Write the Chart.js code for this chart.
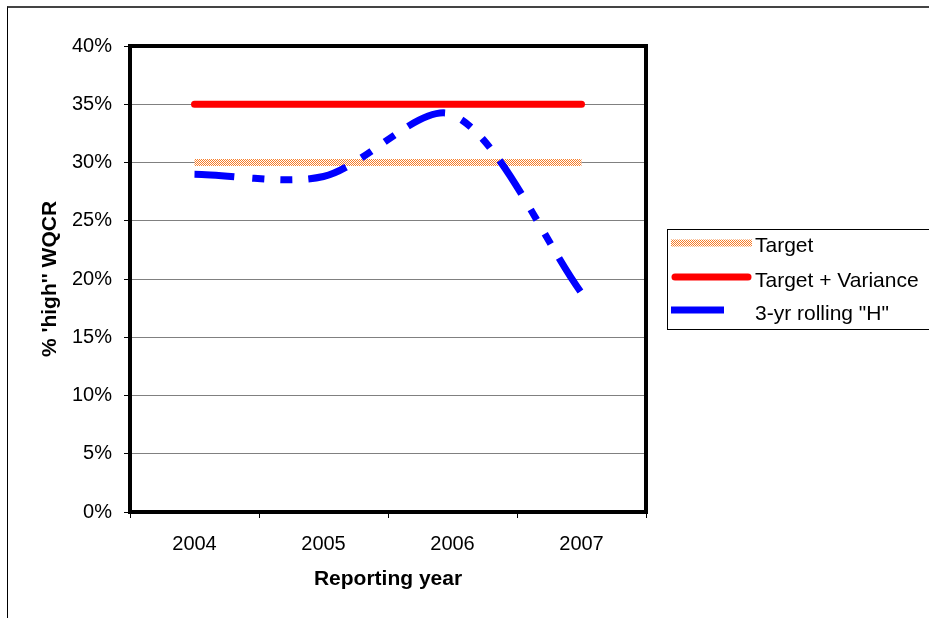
<!DOCTYPE html>
<html><head><meta charset="utf-8">
<script src="https://cdn.jsdelivr.net/npm/chart.js@4.4.0/dist/chart.umd.min.js"></script>
<style>
html,body{margin:0;padding:0;background:#fff;overflow:hidden;}
#wrap{position:relative;width:929px;height:618px;overflow:hidden;}
#frame{position:absolute;left:7px;top:6px;width:1000px;height:700px;border-top:2px solid #444;border-left:1px solid #000;}
canvas{position:absolute;left:0;top:0;}
</style></head>
<body><div id="wrap"><div id="frame"></div><canvas id="c" width="929" height="618"></canvas></div>
<script>
const categories = ['2004', '2005', '2006', '2007'];
const targetValues = [30, 30, 30, 30];
const targetVarianceValues = [35, 35, 35, 35];
const rollingHValues = [29.0, 28.8, 34.1, 18.8];
const yTickLabels = ['0%', '5%', '10%', '15%', '20%', '25%', '30%', '35%', '40%'];
const seriesLabels = ['Target', 'Target + Variance', '3-yr rolling "H"'];

const FONT = "'Liberation Sans', Arial, sans-serif";

function dotPattern() {
  const c = document.createElement('canvas');
  c.width = 2; c.height = 2;
  const g = c.getContext('2d');
  g.fillStyle = '#ffffff'; g.fillRect(0, 0, 2, 2);
  g.fillStyle = '#f77d2a'; g.fillRect(0, 0, 1, 1); g.fillRect(1, 1, 1, 1);
  return g.createPattern(c, 'repeat');
}
const targetPattern = dotPattern();

const plotBorder = {
  id: 'plotBorder',
  afterDatasetsDraw(chart) {
    const {ctx, chartArea: a} = chart;
    ctx.save();
    ctx.strokeStyle = '#000';
    ctx.lineWidth = 4;
    ctx.strokeRect(a.left, a.top, a.right - a.left, a.bottom - a.top);
    ctx.restore();
  }
};

const boxLegend = {
  id: 'boxLegend',
  afterDraw(chart) {
    const ctx = chart.ctx;
    ctx.save();
    ctx.strokeStyle = '#000';
    ctx.lineWidth = 1;
    ctx.strokeRect(667.5, 229.5, 300, 100);
    const lineY = [243, 277, 310];
    const textY = [246, 281, 314];
    const lineEnd = [752, 752, 724];
    chart.data.datasets.forEach((ds, i) => {
      ctx.beginPath();
      ctx.strokeStyle = ds.borderColor;
      ctx.lineWidth = ds.borderWidth;
      ctx.lineCap = ds.borderCapStyle || 'butt';
      const x0 = ds.borderCapStyle === 'round' ? 675 : 671;
      const x1 = ds.borderCapStyle === 'round' ? lineEnd[i] - 4 : lineEnd[i];
      ctx.moveTo(x0, lineY[i]);
      ctx.lineTo(x1, lineY[i]);
      ctx.stroke();
      ctx.fillStyle = '#000';
      ctx.font = '21px ' + FONT;
      ctx.textBaseline = 'middle';
      ctx.textAlign = 'left';
      ctx.fillText(ds.label, 755, textY[i]);
    });
    ctx.restore();
  }
};

new Chart(document.getElementById('c'), {
  type: 'line',
  data: {
    labels: categories,
    datasets: [
      {label: seriesLabels[0], data: targetValues, borderColor: targetPattern, backgroundColor: targetPattern,
       borderWidth: 7, pointRadius: 0, tension: 0, borderCapStyle: 'butt', order: 3, fill: false},
      {label: seriesLabels[1], data: targetVarianceValues, borderColor: '#ff0000', backgroundColor: '#ff0000',
       borderWidth: 7, pointRadius: 0, tension: 0, borderCapStyle: 'round', order: 2, fill: false},
      {label: seriesLabels[2], data: rollingHValues, borderColor: '#0000ff', backgroundColor: '#0000ff',
       borderWidth: 7, pointRadius: 0, tension: 0.3, borderDash: [40, 18, 12, 16, 12, 16],
       borderCapStyle: 'butt', order: 1, fill: false}
    ]
  },
  options: {
    responsive: false,
    animation: false,
    devicePixelRatio: 1,
    layout: {padding: {top: 46, right: 283, left: 0, bottom: 0}},
    plugins: {legend: {display: false}, tooltip: {enabled: false}},
    scales: {
      x: {
        type: 'category',
        offset: true,
        grid: {offset: true, drawOnChartArea: false, drawTicks: true, tickLength: 6, tickColor: '#000', lineWidth: 1},
        border: {display: false},
        ticks: {color: '#000', font: {family: FONT, size: 20}, padding: 14, maxRotation: 0, autoSkip: false},
        title: {display: true, text: 'Reporting year', color: '#000',
                font: {family: FONT, size: 21, weight: 'bold'}, padding: {top: 0, bottom: 26}},
        afterFit: s => { s.height = 106; }
      },
      y: {
        min: 0, max: 40,
        ticks: {stepSize: 5, color: '#000', font: {family: FONT, size: 20}, padding: 12,
                callback: (v, i) => yTickLabels[i]},
        grid: {color: '#808080', tickColor: '#000', tickLength: 6, lineWidth: 1},
        border: {display: false},
        title: {display: true, text: "% 'high'' WQCR", color: '#000',
                font: {family: FONT, size: 21, weight: 'bold'}, padding: {top: 38, bottom: 0}},
        afterFit: s => { s.width = 130; }
      }
    }
  },
  plugins: [plotBorder, boxLegend]
});
</script>
</body></html>
